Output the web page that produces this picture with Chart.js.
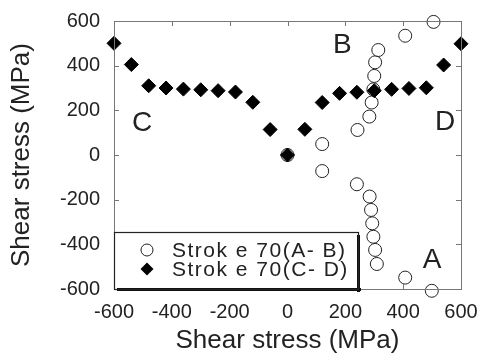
<!DOCTYPE html>
<html>
<head>
<meta charset="utf-8">
<script src="https://cdn.jsdelivr.net/npm/chart.js@4/dist/chart.umd.min.js"></script>
<style>
  html, body { margin: 0; padding: 0; background: #fff; }
  #wrap { width: 482px; height: 356px; position: relative; }
</style>
</head>
<body>
<div id="wrap"><canvas id="shearChart" width="482" height="356"></canvas></div>
<script>
// Stroke 70 (A-B), open circles
const abX = [499, 407, 309, 303, 297, 293, 289, 284, 240, 120, 0, 120, 242, 283, 291, 297, 300, 303, 314, 407, 505];
const abY = [-608, -549, -488, -425, -366, -306, -246, -186, -131, -72, 0, 49, 112, 172, 235, 294, 354, 415, 470, 534, 596];

// Stroke 70 (C-D), filled diamonds
const cdX = [-600, -540, -480, -420, -360, -300, -240, -180, -120, -60, 0, 60, 120, 180, 240, 300, 360, 420, 480, 540, 600];
const cdY = [500, 405, 310, 300, 295, 292, 288, 282, 236, 114, 0, 115, 235, 276, 281, 288, 294, 298, 301, 403, 498];

const seriesLabels = ['Strok e 70(A- B)', 'Strok e 70(C- D)'];
const tickValues = [-600, -400, -200, 0, 200, 400, 600];

// corner letters, in data units
const letterText = ['A', 'B', 'C', 'D'];
const letterX = [500, 190, -503, 545];
const letterY = [-470, 492, 143, 148];

const FONT = '"Liberation Sans", Arial, sans-serif';

const toPoints = (xs, ys) => xs.map((x, i) => ({ x: x, y: ys[i] }));

// box, inward ticks, letters and the boxed legend
const decorPlugin = {
  id: 'decor',
  afterDatasetsDraw(chart) {
    const { ctx, chartArea: a, scales } = chart;
    ctx.save();
    ctx.strokeStyle = '#777';
    ctx.lineWidth = 1;
    ctx.strokeRect(a.left + 0.5, a.top + 0.5, a.right - a.left, a.bottom - a.top);
    ctx.beginPath();
    tickValues.forEach(v => {
      const px = Math.round(scales.x.getPixelForValue(v)) + 0.5;
      const py = Math.round(scales.y.getPixelForValue(v)) + 0.5;
      ctx.moveTo(px, a.top); ctx.lineTo(px, a.top + 5);
      ctx.moveTo(px, a.bottom); ctx.lineTo(px, a.bottom - 5);
      ctx.moveTo(a.left, py); ctx.lineTo(a.left + 5, py);
      ctx.moveTo(a.right, py); ctx.lineTo(a.right - 5, py);
    });
    ctx.stroke();

    ctx.fillStyle = '#222';
    ctx.font = '28px ' + FONT;
    ctx.textAlign = 'center';
    ctx.textBaseline = 'middle';
    letterText.forEach((t, i) => {
      ctx.fillText(t, scales.x.getPixelForValue(letterX[i]), scales.y.getPixelForValue(letterY[i]));
    });

    // legend box with a heavy drop edge
    const bx = a.left, by = 232, bw = 244, bh = a.bottom - 232;
    ctx.fillStyle = '#fff';
    ctx.fillRect(bx, by, bw, bh);
    ctx.fillStyle = '#111';
    ctx.fillRect(bx + 3, by + bh - 1, bw, 3);
    ctx.fillRect(bx + bw - 1, by + 3, 3, bh);
    ctx.strokeStyle = '#222';
    ctx.lineWidth = 1.2;
    ctx.strokeRect(bx + 0.5, by + 0.5, bw, bh);

    const rowY = [250, 269];
    ctx.font = '21px ' + FONT;
    ctx.textAlign = 'left';
    if ('letterSpacing' in ctx) ctx.letterSpacing = '1.5px';
    seriesLabels.forEach((label, i) => {
      const ds = chart.data.datasets.find(d => d.label === label);
      ctx.beginPath();
      if (ds.pointStyle === 'rectRot') {
        const r = 6.5;
        ctx.moveTo(147, rowY[i] - r);
        ctx.lineTo(147 + r, rowY[i]);
        ctx.lineTo(147, rowY[i] + r);
        ctx.lineTo(147 - r, rowY[i]);
        ctx.closePath();
        ctx.fillStyle = '#000';
        ctx.fill();
      } else {
        ctx.arc(147, rowY[i], 6, 0, Math.PI * 2);
        ctx.fillStyle = '#fff';
        ctx.fill();
        ctx.strokeStyle = '#222';
        ctx.lineWidth = 1;
        ctx.stroke();
      }
      ctx.fillStyle = '#222';
      ctx.fillText(label, 172, rowY[i] + 1);
    });
    ctx.restore();
  }
};

new Chart(document.getElementById('shearChart'), {
  type: 'scatter',
  data: {
    datasets: [
      {
        label: seriesLabels[1],
        data: toPoints(cdX, cdY),
        pointStyle: 'rectRot',
        pointRadius: 7,
        backgroundColor: '#000',
        borderColor: '#000',
        borderWidth: 1,
        clip: false
      },
      {
        label: seriesLabels[0],
        data: toPoints(abX, abY),
        pointStyle: 'circle',
        pointRadius: 6.5,
        backgroundColor: 'rgba(255,255,255,0.6)',
        borderColor: '#222',
        borderWidth: 1,
        clip: false
      }
    ]
  },
  options: {
    responsive: false,
    animation: false,
    layout: { padding: { top: 21, right: 21, left: 0, bottom: 0 } },
    plugins: {
      legend: { display: false },
      tooltip: { enabled: false }
    },
    scales: {
      x: {
        type: 'linear',
        min: -600,
        max: 600,
        afterFit: s => { s.height = 67; },
        afterBuildTicks: s => { s.ticks = tickValues.map(v => ({ value: v })); },
        grid: { display: false },
        border: { display: false },
        ticks: { color: '#222', font: { family: FONT, size: 20 }, padding: 3, maxRotation: 0 },
        title: { display: true, text: 'Shear stress (MPa)', color: '#222', font: { family: FONT, size: 26 }, padding: { top: 0, bottom: 0 } }
      },
      y: {
        type: 'linear',
        min: -600,
        max: 600,
        afterFit: s => { s.width = 114; },
        afterBuildTicks: s => { s.ticks = tickValues.map(v => ({ value: v })); },
        grid: { display: false },
        border: { display: false },
        ticks: { color: '#222', font: { family: FONT, size: 20 }, padding: 6 },
        title: { display: true, text: 'Shear stress (MPa)', color: '#222', font: { family: FONT, size: 26 }, padding: { top: 6, bottom: 0 } }
      }
    }
  },
  plugins: [decorPlugin]
});
</script>
</body>
</html>
